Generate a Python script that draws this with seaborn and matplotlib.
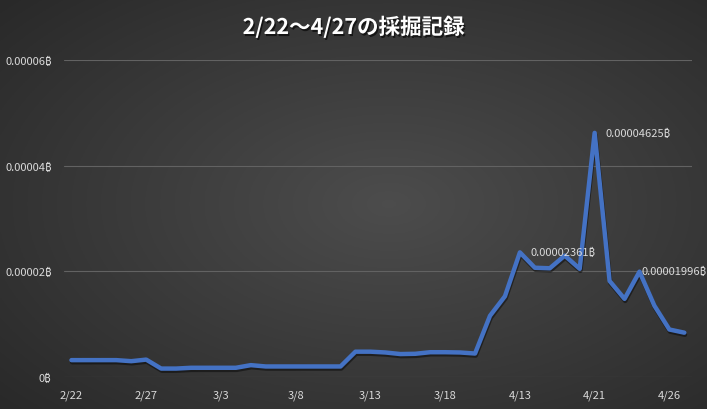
import numpy as np
import matplotlib
matplotlib.use("Agg")
import matplotlib.pyplot as plt
import matplotlib.patheffects as pe
from matplotlib.ticker import FuncFormatter
import seaborn as sns

# mining record, one point per day (category axis)
values = [
    0.0000032, 0.0000032, 0.0000032, 0.0000032, 0.0000030, 0.0000033,
    0.0000016, 0.0000016, 0.00000175, 0.00000175, 0.00000175, 0.00000175,
    0.00000225, 0.0000020, 0.0000020, 0.0000020, 0.0000020, 0.0000020,
    0.0000020, 0.0000048, 0.0000048, 0.00000465, 0.00000435, 0.0000044,
    0.0000047, 0.0000047, 0.00000465, 0.00000445, 0.0000116, 0.0000153,
    0.00002361, 0.0000207, 0.0000206, 0.0000230, 0.0000205, 0.00004625,
    0.0000182, 0.0000148, 0.00001996, 0.0000135, 0.0000090, 0.0000084,
]
tick_labels = ["2/22", "2/27", "3/3", "3/8", "3/13", "3/18", "4/13", "4/21", "4/26"]
label_points = [30, 35, 38]
title = "2/22～4/27の採掘記録"

sns.set_theme(style="dark")
plt.rcParams["font.family"] = ["Noto Sans CJK JP", "Noto Sans", "DejaVu Sans"]

fig = plt.figure(figsize=(7.07, 4.10), dpi=100)

# radial gradient background
bg = fig.add_axes([0, 0, 1, 1], zorder=-10)
gx, gy = np.meshgrid(np.linspace(0, 1, 400), np.linspace(0, 1, 240))
r = np.sqrt(((gx - 0.55) / 0.8) ** 2 + ((gy - 0.5) / 0.8) ** 2)
shade = np.clip(0.30 - 0.15 * r, 0.13, 0.30)
bg.imshow(np.dstack([shade, shade, shade]), aspect="auto", extent=(0, 1, 0, 1))
bg.axis("off")

ax = fig.add_axes([0.0905, 0.078, 0.888, 0.7725])
ax.set_facecolor("none")

x = np.arange(len(values))
sns.lineplot(x=x, y=values, ax=ax, color="#4472C4", linewidth=3.2,
             solid_joinstyle="round", solid_capstyle="round",
             path_effects=[pe.SimpleLineShadow(offset=(0.5, -1.5), shadow_color="black", alpha=0.45),
                           pe.Normal()])

ax.set_xlim(-0.5, len(values) - 0.5)
ax.set_ylim(0, 0.00006)
ax.set_yticks([0, 0.00002, 0.00004, 0.00006])
ax.yaxis.set_major_formatter(FuncFormatter(lambda v, p: f"{v:.5f}".rstrip("0").rstrip(".") + "₿"))
ax.set_xticks(x[::5])
ax.set_xticklabels(tick_labels)
ax.tick_params(axis="both", length=0, colors="#d9d9d9", labelsize=8)
ax.tick_params(axis="x", pad=9)
ax.tick_params(axis="y", pad=9)
ax.grid(axis="y", color="#626262", linewidth=0.8)
ax.grid(axis="x", visible=False)
for s in ax.spines.values():
    s.set_visible(False)
ax.set_xlabel("")
ax.set_ylabel("")

offsets = {30: (11, 0), 35: (11, 0), 38: (2, 1)}
for i in label_points:
    ax.annotate(f"{values[i]:.8f}₿", (i, values[i]), xytext=offsets[i],
                textcoords="offset pixels", ha="left", va="center",
                color="#d9d9d9", fontsize=8)

fig.text(0.5, 0.932, title, ha="center", va="center", color="white",
         fontsize=15.5, fontweight="bold",
         path_effects=[pe.withSimplePatchShadow(offset=(1, -1.5), shadow_rgbFace="black", alpha=0.6)])

fig.savefig("out.png", dpi=100)
